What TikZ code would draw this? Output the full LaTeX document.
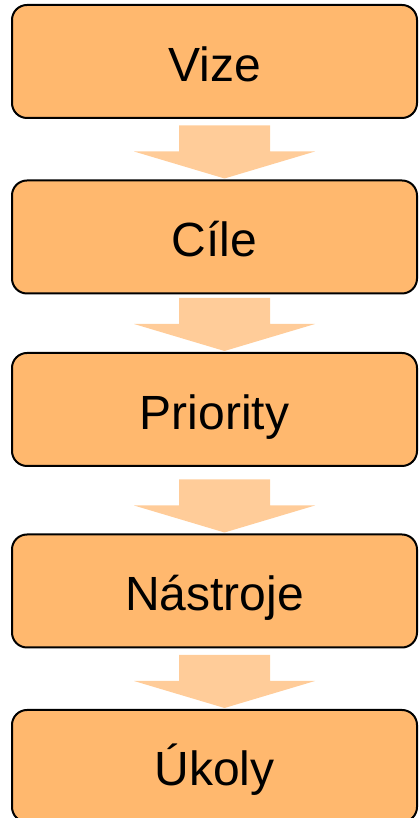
\documentclass[tikz,border=0pt]{standalone}
\usepackage{fontspec}
\setmainfont{Liberation Sans}
\usetikzlibrary{calc}
\definecolor{boxfill}{RGB}{255,184,110}
\definecolor{arrowfill}{RGB}{255,204,153}
\begin{document}
\begin{tikzpicture}[x=1pt,y=1pt,
  stepbox/.style={draw=black, line width=2pt, fill=boxfill, rounded corners=15pt,
    minimum width=405pt, minimum height=113pt, inner sep=0pt,
    text height=45pt, text depth=5pt, font=\fontsize{48}{58}\selectfont},
  flowarrow/.style={fill=arrowfill, draw=none}]
\useasboundingbox (0,0) rectangle (418,818);
\clip (0,0) rectangle (418,818);
\node[stepbox] (v) at (214.5,756.5) {Vize};
\node[stepbox] (c) at (214.5,581) {Cíle};
\node[stepbox] (p) at (214.5,408.5) {Priority};
\node[stepbox] (n) at (214.5,227) {Nástroje};
\node[stepbox, minimum height=112pt] (u) at (214.5,52) {Úkoly};
\foreach \a/\b in {v/c,c/p,p/n,n/u}{
  \coordinate (T) at ($(\b.north)+(10,1)$);
  \fill[flowarrow] (T) -- ($(T)+(90.5,27)$) -- ($(T)+(45.5,27)$) -- ($(T)+(45.5,53)$)
    -- ($(T)+(-45.5,53)$) -- ($(T)+(-45.5,27)$) -- ($(T)+(-90.5,27)$) -- cycle;
}
\end{tikzpicture}
\end{document}
